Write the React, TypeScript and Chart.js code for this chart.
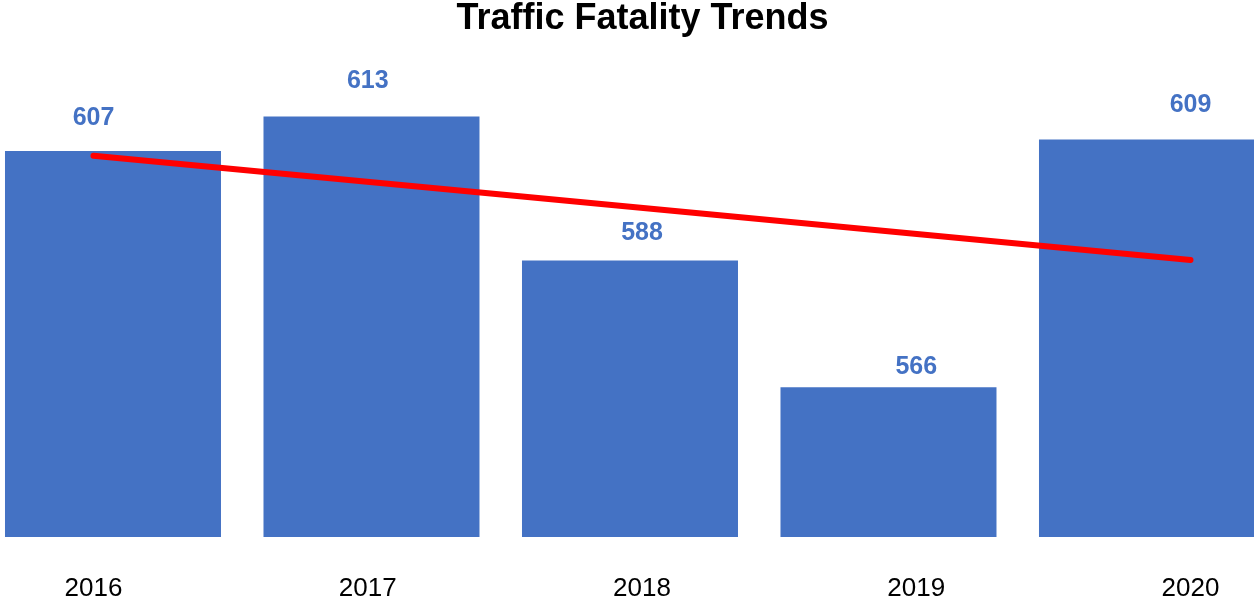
import React, { useEffect, useRef } from "react";
import { Chart, registerables } from "chart.js";

Chart.register(...registerables);

const years = ["2016", "2017", "2018", "2019", "2020"];
const fatalities = [607, 613, 588, 566, 609];
// trend line endpoints (first year, last year)
const trendYears = [0, 4];
const trendValues = [606.2, 588.1];

const FONT = "'Liberation Sans', Arial, Helvetica, sans-serif";
const BLUE = "#4472C4";

const valueLabels = {
  id: "valueLabels",
  afterDatasetsDraw(chart: any) {
    const { ctx, scales } = chart;
    ctx.save();
    ctx.font = `bold 25px ${FONT}`;
    ctx.fillStyle = BLUE;
    ctx.textAlign = "center";
    ctx.textBaseline = "middle";
    fatalities.forEach((v, i) => {
      const x = scales.x2.getPixelForValue(i);
      const y = scales.y2.getPixelForValue(v);
      ctx.fillText(String(v), x, y);
    });
    ctx.restore();
  },
};

const yearTicks = (axis: any) => {
  axis.ticks = years.map((_, i) => ({ value: i }));
};

export default function App() {
  const ref = useRef<HTMLCanvasElement | null>(null);

  useEffect(() => {
    document.body.style.margin = "0";
    document.body.style.overflow = "hidden";
    const canvas = ref.current;
    if (!canvas) return;
    const chart = new Chart(canvas, {
      type: "bar",
      data: {
        datasets: [
          {
            type: "line",
            label: "Trend",
            data: trendYears.map((x, i) => ({ x, y: trendValues[i] })),
            xAxisID: "x2",
            yAxisID: "y",
            borderColor: "#FF0000",
            borderWidth: 6,
            borderCapStyle: "round",
            pointRadius: 0,
            fill: false,
            order: 0,
          } as any,
          {
            type: "bar",
            label: "Fatalities",
            data: fatalities.map((y, x) => ({ x, y })),
            xAxisID: "x",
            yAxisID: "y",
            backgroundColor: BLUE,
            borderWidth: 0,
            grouped: false,
            categoryPercentage: 1,
            barPercentage: 0.8356,
            order: 1,
          } as any,
        ],
      },
      options: {
        responsive: false,
        animation: false,
        layout: { padding: 0 },
        plugins: {
          legend: { display: false },
          tooltip: { enabled: false },
          title: {
            display: true,
            text: "Traffic Fatality Trends",
            color: "#000",
            font: { family: FONT, size: 36, weight: "bold", lineHeight: 1 },
            padding: { top: 1, bottom: 8 },
          },
        },
        scales: {
          x: {
            type: "linear",
            display: false,
            offset: false,
            bounds: "data",
            min: -0.4371,
            max: 4.5339,
            afterBuildTicks: yearTicks,
          },
          x2: {
            type: "linear",
            position: "bottom",
            offset: false,
            bounds: "data",
            min: -0.3409,
            max: 4.3446,
            grid: { display: false, drawTicks: false, offset: false },
            border: { display: false },
            afterBuildTicks: yearTicks,
            afterFit: (axis: any) => {
              axis.height = 66;
              axis.paddingLeft = 0;
              axis.paddingRight = 0;
            },
            ticks: {
              autoSkip: false,
              maxRotation: 0,
              padding: 36,
              color: "#000",
              font: { family: FONT, size: 26 },
              callback: (v: any) => years[v as number] ?? "",
            },
          },
          y: {
            type: "linear",
            display: false,
            bounds: "data",
            min: 540,
            max: 625.42,
          },
          y2: {
            type: "linear",
            display: false,
            bounds: "data",
            min: 538.1,
            max: 618.95,
          },
        },
      },
      plugins: [valueLabels],
    });
    return () => chart.destroy();
  }, []);

  return (
    <canvas
      ref={ref}
      width={1285}
      height={603}
      style={{ display: "block", width: 1285, height: 603 }}
    />
  );
}
